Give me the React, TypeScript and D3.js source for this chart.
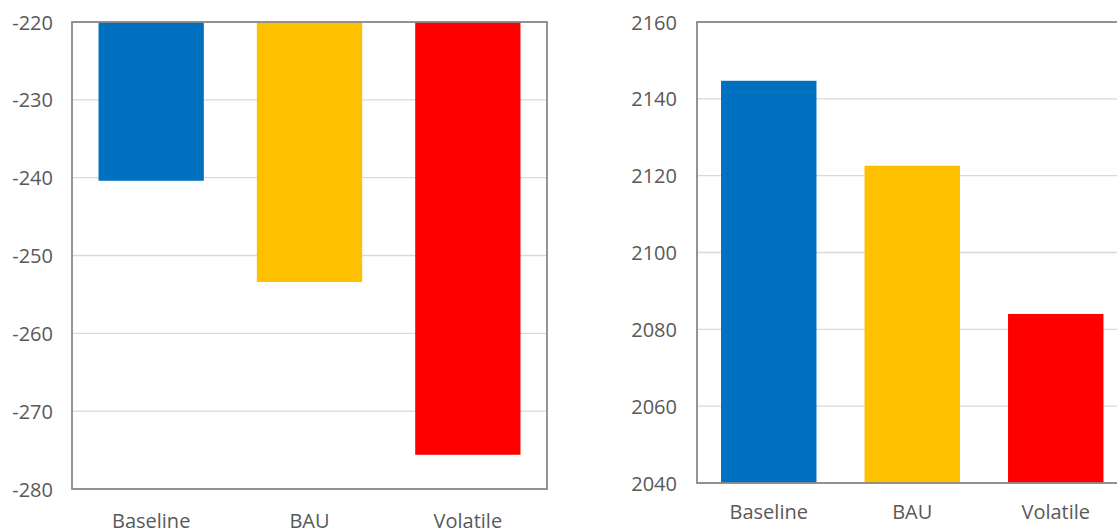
import React from "react";
import * as d3 from "d3";

const categories = ["Baseline", "BAU", "Volatile"];
const colors = ["#0070C0", "#FFC000", "#FF0000"];

const leftValues = [-240.4, -253.4, -275.6];
const leftTicks = [-220, -230, -240, -250, -260, -270, -280];

const rightValues = [2144.7, 2122.6, 2084.0];
const rightTicks = [2160, 2140, 2120, 2100, 2080, 2060, 2040];

const FONT = "'Open Sans', sans-serif";
const TEXT = "#595959";
const GRID = "#D9D9D9";
const BORDER = "#898989";

type PanelProps = {
  x0: number; x1: number; y0: number; y1: number;
  domain: [number, number];
  values: number[];
  ticks: number[];
  base: number;
  labelX: number;
  catY: number;
};

function Panel({ x0, x1, y0, y1, domain, values, ticks, base, labelX, catY }: PanelProps) {
  const y = d3.scaleLinear().domain(domain).range([y1, y0]);
  const x = d3.scaleBand<string>().domain(categories).range([x0, x1]).paddingInner(0.335).paddingOuter(0.1675);
  return (
    <g>
      {ticks.map((t) => (
        <line key={"g" + t} x1={x0} x2={x1} y1={y(t)} y2={y(t)} stroke={GRID} strokeWidth={1.3} />
      ))}
      {categories.map((c, i) => {
        const v = values[i];
        const top = Math.min(y(v), y(base));
        const h = Math.abs(y(v) - y(base));
        return <rect key={c} x={x(c)} y={top} width={x.bandwidth()} height={h} fill={colors[i]} />;
      })}
      <rect x={x0} y={y0} width={x1 - x0} height={y1 - y0} fill="none" stroke={BORDER} strokeWidth={1.8} />
      {ticks.map((t) => (
        <text key={"t" + t} x={labelX} y={y(t)} textAnchor="end" dominantBaseline="central"
          fontFamily={FONT} fontSize={20} fill={TEXT}>{t}</text>
      ))}
      {categories.map((c) => (
        <text key={"c" + c} x={(x(c) as number) + x.bandwidth() / 2} y={catY} textAnchor="middle"
          dominantBaseline="central" fontFamily={FONT} fontSize={20} fill={TEXT}>{c}</text>
      ))}
    </g>
  );
}

export default function App() {
  return (
    <svg width={1117} height={531} style={{ position: "absolute", left: 0, top: 0, background: "#fff" }}>
      <rect x={0} y={0} width={1117} height={531} fill="#fff" />
      <Panel x0={72} x1={547} y0={22} y1={489} domain={[-280, -220]} values={leftValues}
        ticks={leftTicks} base={-220} labelX={53} catY={520} />
      <Panel x0={697} x1={1127.5} y0={22} y1={483} domain={[2040, 2160]} values={rightValues}
        ticks={rightTicks} base={2040} labelX={677} catY={511} />
    </svg>
  );
}
